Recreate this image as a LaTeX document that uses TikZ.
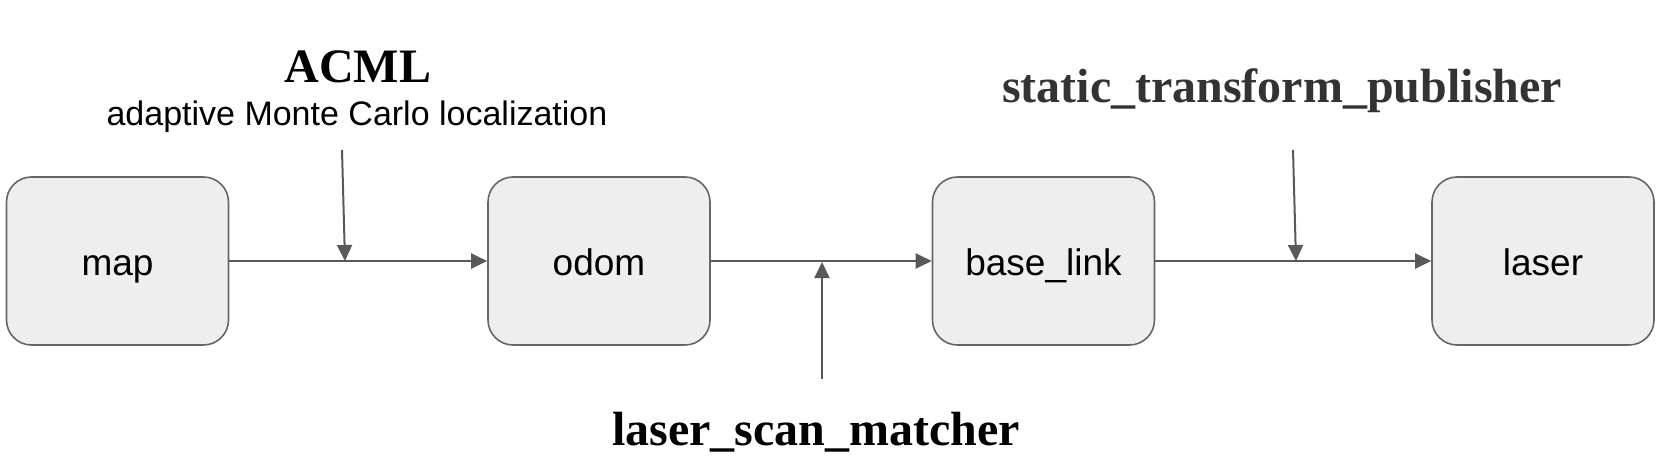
\documentclass[tikz,border=0pt]{standalone}
\usepackage{fontspec}
\setmainfont{Liberation Serif}
\newfontfamily\arialfont{Liberation Sans}
\usetikzlibrary{arrows.meta}
\definecolor{boxfill}{HTML}{EEEEEE}
\definecolor{boxline}{HTML}{666666}
\definecolor{arrowcol}{HTML}{595959}
\definecolor{titlegray}{HTML}{333333}
\tikzset{
  framebox/.style={draw=boxline, fill=boxfill, line width=1.6pt, rounded corners=25pt,
    minimum width=222pt, minimum height=168pt, inner sep=0pt,
    text height=28pt, text depth=0pt,
    font=\arialfont\fontsize{37}{44}\selectfont},
  conn/.style={draw=arrowcol, line width=2pt, -{Triangle[length=16pt,width=15pt]}},
  title/.style={anchor=base, inner sep=0pt, font=\bfseries\fontsize{48}{56}\selectfont},
  subtitle/.style={anchor=base, inner sep=0pt, font=\arialfont\fontsize{34}{40}\selectfont}
}
\begin{document}
\begin{tikzpicture}[x=1pt, y=-1pt]
\useasboundingbox (0,0) rectangle (1661,470);
\node[framebox] (map) at (117.5,261) {map};
\node[framebox] (odom) at (599,261) {odom};
\node[framebox] (base) at (1043.5,261) {base\_link};
\node[framebox] (laser) at (1543,261) {laser};

\node[title] (acml) at (358,83) {ACML};
\node[subtitle] (amcl) at (357,126) {adaptive Monte Carlo localization};
\node[title, text=titlegray] (stp) at (1282,103) {static\_transform\_publisher};
\node[title] (lsm) at (816,445) {laser\_scan\_matcher};

\coordinate (a1) at (342,150);
\coordinate (a2) at (345,261);
\coordinate (s1) at (1293,150);
\coordinate (s2) at (1296,261);
\coordinate (l1) at (822,379);
\coordinate (l2) at (822,262);

\draw[conn] (map.east) -- (odom.west);
\draw[conn] (odom.east) -- (base.west);
\draw[conn] (base.east) -- (laser.west);
\draw[conn] (a1) -- (a2);
\draw[conn] (s1) -- (s2);
\draw[conn] (l1) -- (l2);
\end{tikzpicture}
\end{document}
